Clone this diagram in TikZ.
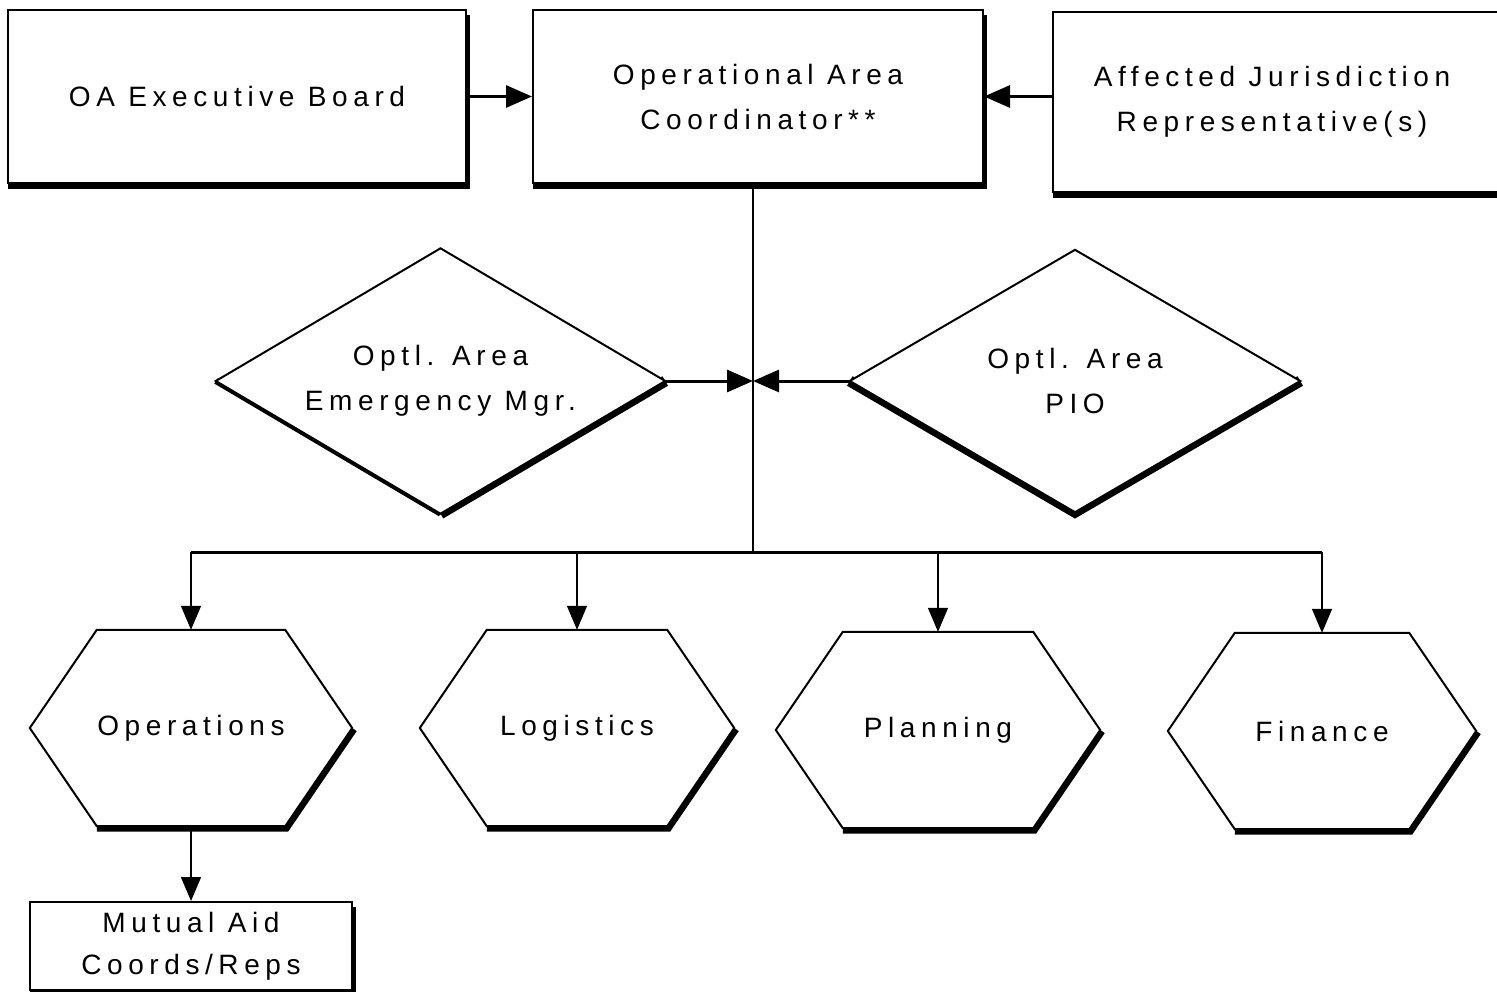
\documentclass[tikz,border=0pt]{standalone}
\usepackage{fontspec}
\setmainfont{Liberation Sans}[LetterSpace=20]
\usetikzlibrary{arrows.meta,calc,backgrounds}
\begin{document}
\begin{tikzpicture}[x=1pt,y=-1pt,
  lbl/.style={font=\fontsize{28}{45}\selectfont, align=center, inner sep=0pt},
  boxnode/.style={draw, line width=2pt, fill=white, inner sep=0pt, font=\fontsize{28}{45}\selectfont, align=center},
  plain/.style={inner sep=0pt, font=\fontsize{28}{45}\selectfont, align=center},
  shadowline/.style={line width=11pt, line cap=butt, line join=miter},
  thinshadow/.style={line width=6pt, line cap=butt},
  outline/.style={line width=2pt, fill=white, line join=miter},
  arr/.style={line width=3pt, -{Triangle[length=26pt,width=22pt]}},
  drop/.style={line width=1.6pt, -{Triangle[length=24pt,width=20pt]}},
  bus/.style={line width=3pt}
]
\useasboundingbox (0,0) rectangle (1497,992);

% top boxes
\node[boxnode, minimum width=458pt, minimum height=173pt] (box1) at (237,96.5) {OA Executive Board};
\node[boxnode, minimum width=450pt, minimum height=173pt] (box2) at (758,96.5) {Operational Area\\Coordinator**};
\node[boxnode, minimum width=474pt, minimum height=180pt] (box3) at (1290,102) {};
\node[lbl] (box3t) at (1272,102) {Affected Jurisdiction\\Representative(s)};

% diamonds (placeholder rectangles)
\node[plain, minimum width=449pt, minimum height=265pt] (d1) at (440.5,381) {Optl. Area\\Emergency Mgr.};
\node[plain, minimum width=450pt, minimum height=262pt] (d2) at (1075,381) {Optl. Area\\PIO};

% hexagons
\node[plain, minimum width=322pt, minimum height=196pt] (ops) at (191,728) {Operations};
\node[plain, minimum width=314pt, minimum height=196pt] (log) at (577,728) {Logistics};
\node[plain, minimum width=324pt, minimum height=196pt] (pla) at (938,730) {Planning};
\node[plain, minimum width=308pt, minimum height=196pt] (fin) at (1322,731) {Finance};

% mutual aid
\node[boxnode, minimum width=322pt, minimum height=88pt, font=\fontsize{28}{42}\selectfont] (mut) at (191,946) {Mutual Aid\\Coords/Reps};

\begin{scope}[on background layer]
  \fill[white] (0,0) rectangle (1497,992);
  % box shadows (inner half hidden by the white fill of the node)
  \foreach \b in {box1,box2,box3,mut} {
    \draw[shadowline] ($(\b.south west)+(1,0)$) -- ($(\b.south east)+(2.5,0)$);
    \draw[thinshadow] ($(\b.north east)+(0,6)$) -- (\b.south east);
  }
  % diamond shadows
  \draw[shadowline] (d1.south) -- (d1.east);
  \draw[thinshadow] (d1.west) -- (d1.south);
  \draw[shadowline] (d2.west) -- (d2.south) -- (d2.east);
  \foreach \d in {d1,d2} {
    \draw[outline] (\d.west) -- (\d.north) -- (\d.east) -- (\d.south) -- cycle;
  }
  % hexagon shadows and outlines
  \foreach \h in {ops,log,pla,fin} {
    \draw[shadowline] (\h.east) -- ($(\h.south east)+(-67,0)$) -- ($(\h.south west)+(67,0)$);
    \draw[outline] (\h.west) -- ($(\h.north west)+(67,0)$) -- ($(\h.north east)+(-67,0)$) -- (\h.east) -- ($(\h.south east)+(-67,0)$) -- ($(\h.south west)+(67,0)$) -- cycle;
  }
\end{scope}

% connectors
\draw[arr] (box1.east) -- (box2.west);
\draw[arr] (box3.west |- box2.east) -- (box2.east);

\coordinate (j) at (753,381);
\coordinate (busc) at (753,552);
\draw[line width=1.6pt] (box2.south -| j) -- (busc);
\draw[arr] (d1.east) -- (j);
\draw[arr] (d2.west) -- (j);
\draw[bus] (ops.north |- busc) -- (fin.north |- busc);
\foreach \h in {ops,log,pla,fin} {
  \draw[drop] (\h.north |- busc) -- (\h.north);
}
\draw[drop] (ops.south) -- (mut.north);
\end{tikzpicture}
\end{document}
